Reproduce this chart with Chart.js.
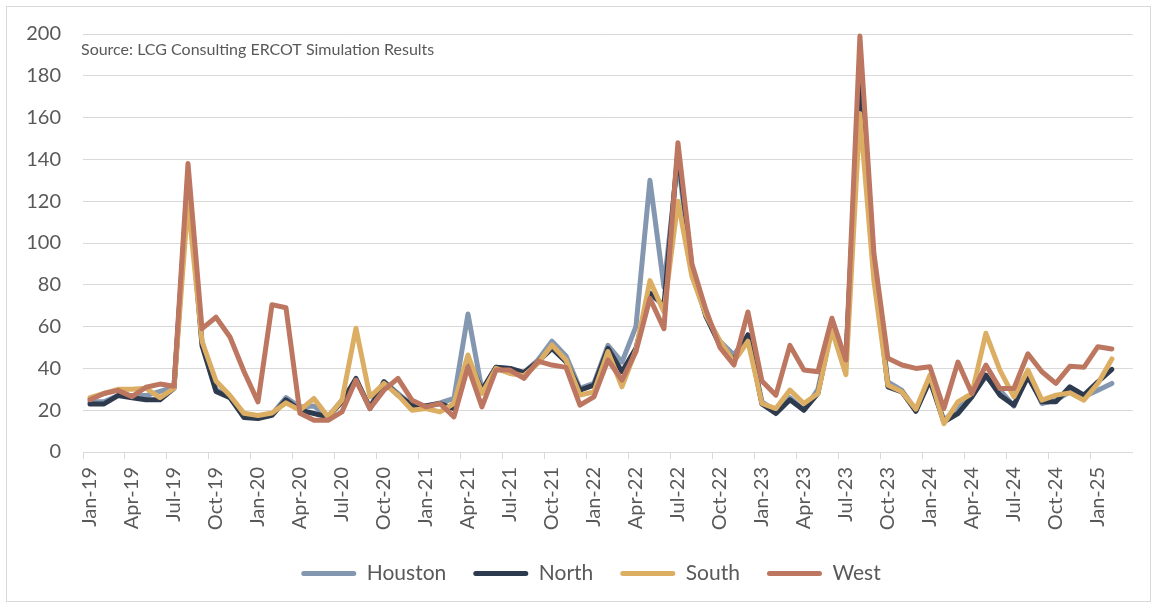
<!doctype html>
<html>
    <head>
        <meta charset="utf-8">
        <script src="https://cdn.jsdelivr.net/npm/chart.js"></script>
        <style>
            body {
                margin: 0px;
                background-color: white;
            }

            #frame {
                position: absolute;
                left: 6px;
                top: 6px;
                width: 1143px;
                height: 594px;
                border: 1px solid #d9d9d9;
                pointer-events: none;
            }

            #chart {
                position: absolute;
                left: 0px;
                top: 0px;
            }
        </style>
    </head>
    <body>

        <canvas id="chart" width="1158" height="608"></canvas>
        <div id="frame"></div>

        <script>

        // monthly categories Jan-19 .. Mar-25 (last month has no data yet)
        const monthNames = ['Jan', 'Feb', 'Mar', 'Apr', 'May', 'Jun', 'Jul', 'Aug', 'Sep', 'Oct', 'Nov', 'Dec'];
        const yearNames = ['19', '20', '21', '22', '23', '24', '25'];
        const categoryCount = 75;

        const houston = [
            24, 24, 27, 27, 27, 29, 31, 132, 53, 30, 26, 17,
            16.5, 18, 26, 21.5, 22, 16.8, 24.8, 34.4, 21.6, 33.6, 28, 22.4,
            22, 23.5, 25.6, 66, 29.6, 40.5, 40, 38, 44, 53, 46, 30.4,
            32.8, 51, 43, 60, 130, 79, 140, 86, 65, 53, 46.4, 56,
            24, 19.5, 26, 20, 30, 60, 44, 178, 88, 33.6, 29.5, 20,
            35, 15.2, 20.8, 27, 36, 29.6, 22, 37.6, 23.2, 24.8, 28.8, 26.4,
            29.6, 32.8, null
        ];
        const north = [
            23, 23, 27, 26, 25, 25, 30.5, 130, 51, 29, 26, 16.5,
            16, 17.5, 25, 20, 18.4, 16.8, 24, 35.2, 20.8, 33.6, 27.2, 22.4,
            22, 23.2, 20.8, 44.8, 29.6, 40.5, 40, 38, 43.2, 49.6, 43.2, 29.6,
            32, 49.6, 38.4, 49.6, 76, 70, 144, 88, 65, 51, 44, 56,
            23, 18.4, 25, 20, 28, 60, 44, 182, 90, 31.2, 28.8, 19.5,
            34.4, 14.4, 18.4, 26.4, 36.8, 27.2, 22.4, 36, 24, 24, 31.2, 27.2,
            33.6, 39.5, null
        ];
        const south = [
            26, 28, 30, 30, 30.5, 26, 30.5, 120, 53, 34, 27, 18.5,
            17.5, 18.7, 23.5, 20, 25.6, 16.8, 24.8, 59.2, 26.4, 32.8, 27.2, 20,
            20.8, 19.2, 23.2, 46.4, 28, 40, 37.6, 36.5, 42.4, 51.2, 44, 27.2,
            28.8, 48, 31.2, 48.8, 82, 67, 120, 84, 65.6, 53, 43.2, 53,
            23.2, 20.8, 29.6, 23.2, 28, 58.4, 37, 162, 82, 32, 28.8, 20.5,
            36.8, 13.6, 24, 28, 56.8, 39.2, 26.4, 39.2, 24.8, 27.2, 28.3, 24.8,
            32.8, 44.5, null
        ];
        const west = [
            25, 28, 29.5, 26.5, 31, 32.5, 31.5, 138, 59, 64.5, 55, 38.5,
            24, 70.5, 69, 18.5, 15.2, 15.2, 19.2, 34.4, 20.8, 29.6, 35.2, 24.8,
            21.6, 23.2, 16.8, 40.8, 21.6, 39.2, 39.2, 35.2, 43.5, 41.6, 40.5, 22.4,
            26.4, 44, 34.4, 48, 73.5, 59, 148, 90, 68, 50, 41.6, 67,
            34, 27.2, 51, 39.2, 38.4, 64, 44, 199, 95, 44.8, 41.6, 40,
            40.8, 20.8, 43, 28, 41.6, 30.4, 30.4, 47, 38.4, 32.8, 41, 40.5,
            50.4, 49.3, null
        ];

        const sourceNote = 'Source: LCG Consulting ERCOT Simulation Results';

        let categories = [];
        for (let y = 0; y < yearNames.length; y++) {
            for (let m = 0; m < 12; m++) {
                if (categories.length < categoryCount) {
                    categories.push(monthNames[m] + '-' + yearNames[y]);
                }
            }
        }

        const textColor = '#595959';
        const gridColor = '#d9d9d9';

        function series(label, values, color, order) {
            return {
                label: label,
                data: values,
                borderColor: color,
                backgroundColor: color,
                borderWidth: 5,
                pointRadius: 0,
                pointHoverRadius: 0,
                tension: 0,
                borderJoinStyle: 'round',
                borderCapStyle: 'round',
                clip: false,
                order: order
            };
        }

        // source note inside the plot, top left; legend nudged right like the original
        const extrasPlugin = {
            id: 'extras',
            afterLayout(chart) {
                if (chart.legend) {
                    chart.legend.left += 21;
                    chart.legend.right += 21;
                }
            },
            afterDraw(chart) {
                const ctx = chart.ctx;
                ctx.save();
                ctx.font = '16px Lato';
                ctx.fillStyle = textColor;
                ctx.textAlign = 'left';
                ctx.textBaseline = 'alphabetic';
                ctx.fillText(sourceNote, chart.chartArea.left - 2, 55);
                ctx.restore();
            }
        };

        const defaultLabels = Chart.defaults.plugins.legend.labels.generateLabels;

        new Chart(document.getElementById('chart'), {
            type: 'line',
            data: {
                labels: categories,
                datasets: [
                    series('Houston', houston, '#8497b0', 4),
                    series('North', north, '#2e3b4e', 3),
                    series('South', south, '#dcae64', 2),
                    series('West', west, '#bd7660', 1)
                ]
            },
            options: {
                responsive: false,
                animation: false,
                events: [],
                layout: {
                    padding: { left: 0, right: 18, top: 34, bottom: 14 }
                },
                scales: {
                    x: {
                        offset: true,
                        border: { color: gridColor, width: 1 },
                        grid: {
                            offset: true,
                            drawOnChartArea: false,
                            drawTicks: true,
                            tickLength: 7,
                            color: (c) => (c.index % 3 === 0 ? gridColor : 'rgba(0,0,0,0)')
                        },
                        ticks: {
                            autoSkip: false,
                            minRotation: 90,
                            maxRotation: 90,
                            padding: 8,
                            color: textColor,
                            font: { family: 'Lato', size: 20 },
                            callback: function(value, index) {
                                return index % 3 === 0 ? this.getLabelForValue(value) : '';
                            }
                        },
                        afterFit: (scale) => { scale.height = 84; }
                    },
                    y: {
                        min: 0,
                        max: 200,
                        border: { display: false },
                        grid: { color: gridColor, drawTicks: false },
                        ticks: {
                            stepSize: 20,
                            padding: 22,
                            color: textColor,
                            font: { family: 'Lato', size: 20 }
                        },
                        afterFit: (scale) => { scale.width = 83; }
                    }
                },
                plugins: {
                    tooltip: { enabled: false },
                    legend: {
                        position: 'bottom',
                        labels: {
                            color: textColor,
                            font: { family: 'Lato', size: 21 },
                            boxWidth: 55,
                            boxHeight: 5,
                            padding: 27,
                            useBorderRadius: true,
                            borderRadius: 2.5,
                            sort: (a, b) => a.datasetIndex - b.datasetIndex,
                            generateLabels: (chart) => defaultLabels(chart).map((item) => {
                                item.lineWidth = 0;
                                return item;
                            })
                        }
                    }
                }
            },
            plugins: [extrasPlugin]
        });

        </script>

    </body>
</html>
